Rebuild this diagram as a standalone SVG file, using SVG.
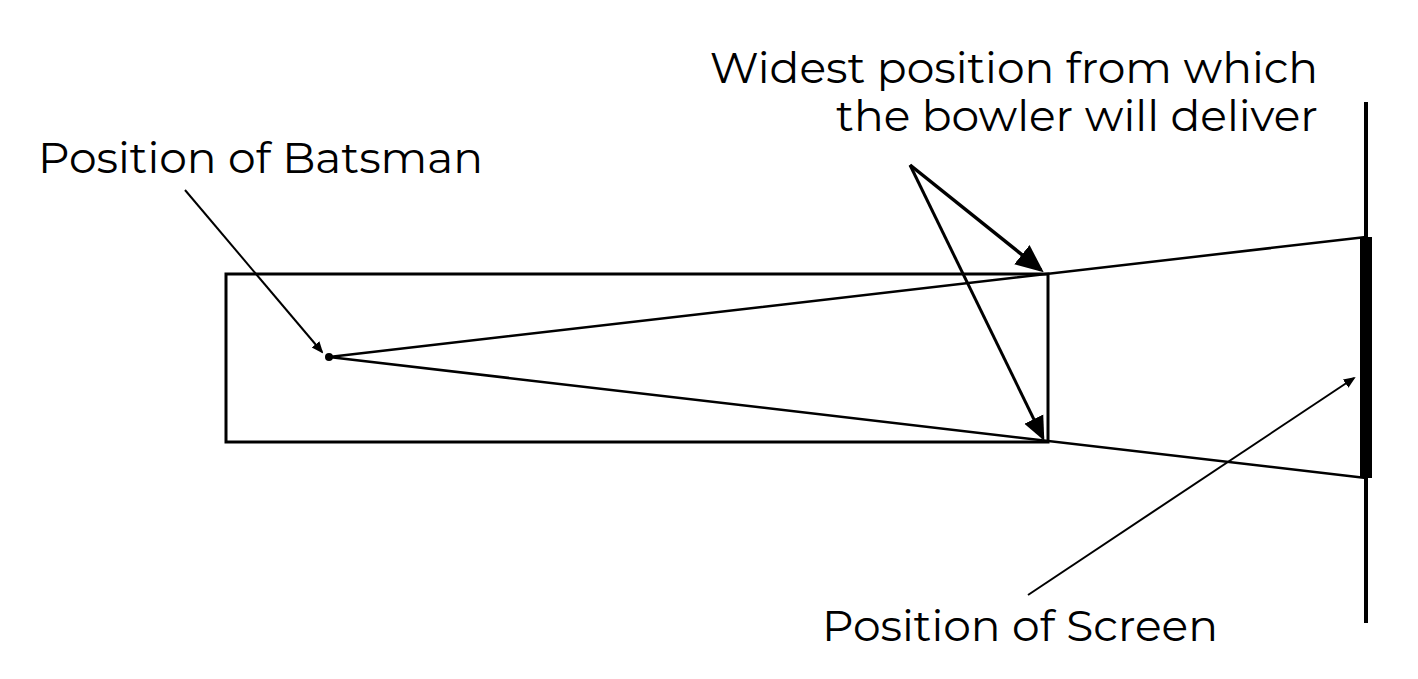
<svg xmlns="http://www.w3.org/2000/svg" width="1418" height="679" viewBox="0 0 1418 679">
<style>
text{font-family:"Montserrat","Open Sans","Liberation Sans",sans-serif;font-size:44px;fill:#000}
.l{stroke:#000;fill:none}
</style>
<defs>
<marker id="a" markerWidth="8" markerHeight="8" refX="7" refY="4" orient="auto" markerUnits="strokeWidth"><path d="M0,0.5 L8,4 L0,7.5 Z" fill="#000"/></marker>
<marker id="b" markerWidth="6" markerHeight="6" refX="5" refY="3" orient="auto" markerUnits="strokeWidth"><path d="M0,0.5 L6,3 L0,5.5 Z" fill="#000"/></marker>
</defs>
<g id="field"><rect class="l" x="226" y="274" width="822" height="168" stroke-width="3"/></g>
<g id="screen"><line class="l" x1="1366" y1="102" x2="1366" y2="623" stroke-width="4"/><rect x="1360" y="237" width="12" height="241" fill="#000"/></g>
<g id="batsman"><circle cx="329" cy="357" r="4" fill="#000"/><text x="38" y="173">Position of Batsman</text></g>
<g id="bowler"><text x="1318" y="83" text-anchor="end">Widest position from which</text><text x="1318" y="131" text-anchor="end">the bowler will deliver</text></g>
<g id="screenlabel"><text x="822" y="641">Position of Screen</text></g>
<g id="connectors">
<polyline class="l" points="1366,237 329,357 1366,478" stroke-width="2.5"/>
<line class="l" x1="910" y1="165" x2="1041" y2="270" stroke-width="3.5" marker-end="url(#a)"/>
<line class="l" x1="910" y1="165" x2="1043" y2="438" stroke-width="3" marker-end="url(#a)"/>
<line class="l" x1="185" y1="190" x2="322" y2="352" stroke-width="2" marker-end="url(#b)"/>
<line class="l" x1="1028" y1="595" x2="1354" y2="378" stroke-width="2" marker-end="url(#b)"/>
</g>
</svg>
